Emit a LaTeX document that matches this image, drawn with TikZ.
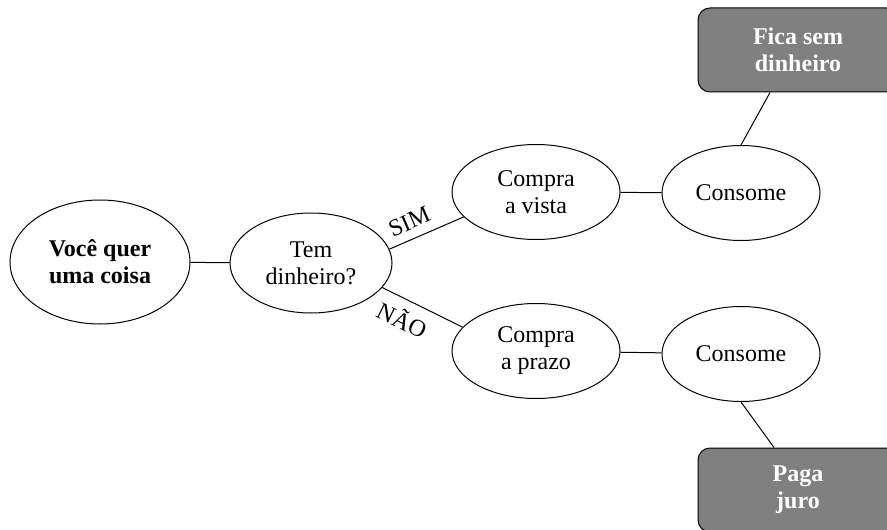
\documentclass[tikz,border=0pt]{standalone}
\usepackage{fontspec}
\setmainfont{Liberation Serif}
\usetikzlibrary{shapes.geometric}
\definecolor{boxgray}{RGB}{128,128,128}

\begin{document}
\begin{tikzpicture}[x=0.5pt, y=-0.5pt,
  every node/.style={font=\fontsize{12}{13.5}\selectfont, align=center},
  elo/.style={ellipse, draw, inner sep=0pt, line width=0.5pt},
  fim/.style={rectangle, rounded corners=6pt, draw, fill=boxgray,
      line width=0.5pt, minimum width=100pt, minimum height=42pt,
      text=white, font=\fontsize{12}{13.5}\selectfont\bfseries},
  lig/.style={line width=0.5pt}]
\useasboundingbox (0,0) rectangle (887,529);
% Start
\node[elo, minimum width=90pt, minimum height=62pt,
      font=\fontsize{12}{13.5}\selectfont\bfseries] (voce) at (100,262) {Você quer\\uma coisa};
\node[elo, minimum width=81pt, minimum height=50pt] (tem) at (311,263) {Tem\\dinheiro?};
% Branches
\node[elo, minimum width=84pt, minimum height=47.5pt] (vista) at (536,192) {Compra\\a vista};
\node[elo, minimum width=84pt, minimum height=47.5pt] (prazo) at (536,351) {Compra\\a prazo};
\node[elo, minimum width=79pt, minimum height=47.5pt] (cons1) at (741,193) {Consome};
\node[elo, minimum width=79pt, minimum height=47.5pt] (cons2) at (741,354) {Consome};
% Outcomes
\node[fim] (fica) at (798,50) {Fica sem\\dinheiro};
\node[fim] (juro) at (798,490) {Paga\\juro};
% Lines
\draw[lig] (voce) -- (tem);
\draw[lig] (tem.10) -- node[sloped, above, pos=0.36, yshift=1pt]{SIM} (vista.199);
\draw[lig] (tem.341) -- node[sloped, below, pos=0.36, yshift=-1pt]{NÃO} (prazo.162);
\draw[lig] (vista) -- (cons1);
\draw[lig] (prazo) -- (cons2);
\draw[lig] (cons1.north) -- ([xshift=-14pt]fica.south);
\draw[lig] (cons2.south) -- ([xshift=-12pt]juro.north);
\end{tikzpicture}
\end{document}
